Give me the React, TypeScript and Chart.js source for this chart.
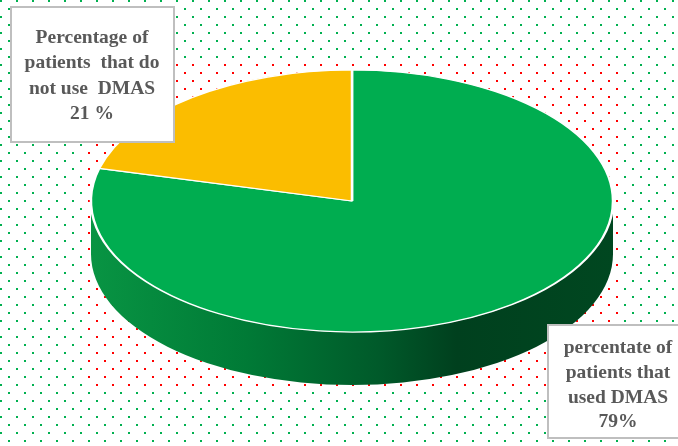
import { useEffect, useRef } from "react";
import { Chart, registerables } from "chart.js";
Chart.register(...registerables);

const categories = [
  "percentate of patients that used DMAS",
  "Percentage of patients  that do not use  DMAS",
];
const values = [79, 21];
const sliceColors = ["#00AD50", "#FBBD00"];
const sideColors = ["#00471F", "#B58600"];
const labelLines = [
  ["percentate of", "patients that", "used DMAS", "79%"],
  ["Percentage of", "patients  that do", "not use  DMAS", "21 %"],
];

const W = 678;
const H = 446;
const TILT = 0.502;
const DEPTH = 53;

const bgPlugin = {
  id: "dotsBg",
  beforeDraw(chart: any) {
    const ctx = chart.ctx;
    ctx.save();
    ctx.fillStyle = "#ffffff";
    ctx.fillRect(0, 0, chart.width, chart.height);
    for (let y = 0; y < chart.height; y += 8) {
      const off = (y / 8) % 2 === 0 ? 0 : 8;
      for (let x = off; x < chart.width; x += 16) {
        const red = x + 1 >= 84 && x + 1 <= 621 && y + 1 >= 63 && y + 1 <= 392;
        ctx.fillStyle = red ? "#FF0000" : "#00B050";
        ctx.fillRect(x, y, 2, 2);
      }
    }
    ctx.restore();
  },
};

const pie3dPlugin = {
  id: "pie3d",
  beforeDatasetsDraw(chart: any) {
    const ctx = chart.ctx;
    const arcs = chart.getDatasetMeta(0).data;
    chart.$tilted = false;
    if (!arcs.length) return;
    const p0 = arcs[0].getProps(["x", "y", "outerRadius"], true);
    const cx = p0.x, cy = p0.y, r = p0.outerRadius;
    const ry = r * TILT;
    ctx.save();
    chart.$tilted = true;
    arcs.forEach((arc: any, i: number) => {
      const { startAngle, endAngle } = arc.getProps(["startAngle", "endAngle"], true);
      for (const shift of [-2 * Math.PI, 0, 2 * Math.PI]) {
        const a0 = Math.max(startAngle + shift, 0);
        const a1 = Math.min(endAngle + shift, Math.PI);
        if (a1 <= a0) continue;
        let fill: any = sideColors[i];
        if (i === 0) {
          const g = ctx.createLinearGradient(cx - r, 0, cx + r, 0);
          g.addColorStop(0, "#089443");
          g.addColorStop(0.3, "#007A36");
          g.addColorStop(0.55, "#005A2A");
          g.addColorStop(0.7, "#00401E");
          g.addColorStop(1, "#004720");
          fill = g;
        }
        ctx.beginPath();
        ctx.ellipse(cx, cy, r, ry, 0, a0, a1, false);
        ctx.lineTo(cx + r * Math.cos(a1), cy + ry * Math.sin(a1) + DEPTH);
        ctx.ellipse(cx, cy + DEPTH, r, ry, 0, a1, a0, true);
        ctx.closePath();
        ctx.fillStyle = fill;
        ctx.fill();
      }
    });
    ctx.translate(cx, cy);
    ctx.scale(1, TILT);
    ctx.translate(-cx, -cy);
  },
  afterDatasetsDraw(chart: any) {
    if (chart.$tilted) {
      chart.ctx.restore();
      chart.$tilted = false;
    }
  },
};

const boxes = [
  { x: 548, y: 325, w: 140, h: 113, cx: 618, lineY: [348, 373, 398, 422] },
  { x: 11, y: 7, w: 163, h: 135, cx: 92, lineY: [38, 63, 89, 114] },
];

const labelPlugin = {
  id: "labelBoxes",
  afterDraw(chart: any) {
    const ctx = chart.ctx;
    ctx.save();
    boxes.forEach((b, i) => {
      ctx.fillStyle = "#ffffff";
      ctx.fillRect(b.x, b.y, b.w, b.h);
      ctx.strokeStyle = "#BFBFBF";
      ctx.lineWidth = 2;
      ctx.strokeRect(b.x, b.y, b.w, b.h);
      ctx.fillStyle = "#595959";
      ctx.font = "bold 19.5px 'Liberation Serif', serif";
      ctx.textAlign = "center";
      ctx.textBaseline = "middle";
      labelLines[i].forEach((t, k) => ctx.fillText(t, b.cx, b.lineY[k]));
    });
    ctx.restore();
  },
};

export default function App() {
  const ref = useRef<HTMLCanvasElement>(null);
  useEffect(() => {
    document.body.style.margin = "0";
    if (!ref.current) return;
    const chart = new Chart(ref.current, {
      type: "pie",
      data: {
        labels: categories,
        datasets: [
          {
            data: values,
            backgroundColor: sliceColors,
            borderColor: "#ffffff",
            borderWidth: 2.5,
            clip: false,
          } as any,
        ],
      },
      options: {
        responsive: false,
        animation: false,
        events: [],
        radius: 261,
        layout: { padding: { left: 26, right: 0, top: 0, bottom: 44 } },
        plugins: { legend: { display: false }, tooltip: { enabled: false } },
      } as any,
      plugins: [bgPlugin, pie3dPlugin, labelPlugin],
    });
    return () => chart.destroy();
  }, []);
  return (
    <div style={{ width: W, height: H }}>
      <canvas ref={ref} width={W} height={H} style={{ display: "block" }} />
    </div>
  );
}
